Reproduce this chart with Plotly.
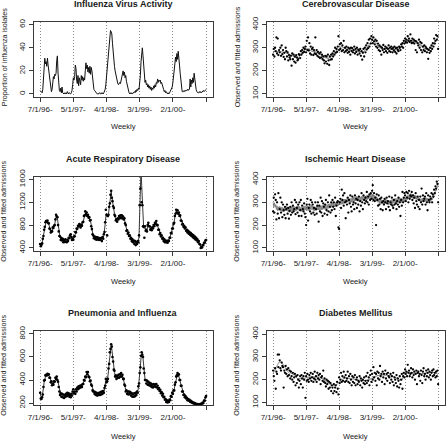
import plotly.graph_objects as go

# ---------------- data (weekly, week 1 .. 251) ----------------
weeks = list(range(1, 252))
tick_weeks = [1, 51, 101, 151, 201, 251]
tick_labels = ["7/1/96-", "5/1/97-", "4/1/98-", "3/1/99-", "2/1/00-", ""]

influenza = [
    3, 2, 1, 1, 4, 12, 22, 31, 26, 28,
    24, 31, 25, 20, 14, 8, 4, 2, 4, 9,
    15, 13, 17, 16, 18, 29, 33, 18, 9, 3,
    2, 5, 1, 6, 1, 0, 0, 1, 0, 1,
    0, 2, 1, 0, 1, 0, 0, 1, 3, 8,
    14, 12, 15, 25, 22, 12, 9, 16, 7, 14,
    10, 8, 16, 12, 15, 11, 14, 12, 20, 27,
    22, 25, 19, 23, 18, 24, 17, 23, 20, 12,
    7, 4, 3, 2, 1, 1, 0, 0, 0, 1,
    0, 0, 1, 0, 1, 0, 1, 2, 4, 8,
    15, 25, 35, 42, 44, 50, 55, 54, 52, 44,
    35, 29, 24, 20, 17, 13, 11, 9, 8, 9,
    10, 9, 12, 13, 17, 20, 16, 19, 14, 16,
    11, 8, 5, 3, 1, 0, 1, 0, 1, 0,
    1, 1, 2, 1, 3, 2, 4, 3, 5, 4,
    8, 16, 28, 36, 40, 33, 24, 16, 10, 12,
    8, 9, 6, 8, 5, 7, 4, 6, 3, 5,
    4, 7, 5, 8, 6, 10, 9, 13, 10, 12,
    11, 12, 9, 10, 7, 5, 4, 2, 3, 1,
    2, 1, 0, 1, 0, 1, 2, 3, 5, 6,
    10, 14, 20, 26, 32, 28, 35, 30, 37, 33,
    25, 18, 10, 5, 2, 2, 2, 3, 2, 3,
    3, 3, 4, 3, 4, 4, 13, 6, 12, 9,
    14, 10, 18, 12, 8, 4, 2, 1, 1, 1,
    2, 1, 2, 1, 2, 2, 3, 2, 3, 3,
    4]

acute_fit = [
    460, 440, 450, 490, 540, 620, 700, 780, 830, 860,
    870, 865, 850, 820, 760, 720, 680, 670, 700, 740,
    760, 780, 820, 880, 950, 970, 920, 820, 700, 620,
    580, 560, 560, 550, 540, 530, 525, 520, 530, 520,
    515, 530, 540, 560, 580, 600, 620, 600, 560, 550,
    560, 590, 620, 660, 690, 720, 750, 770, 790, 800,
    790, 780, 790, 800, 830, 880, 940, 980, 1000, 1010,
    1000, 980, 960, 940, 920, 900, 870, 800, 720, 660,
    610, 590, 580, 575, 570, 565, 570, 565, 560, 560,
    555, 560, 555, 560, 570, 580, 620, 700, 820, 950,
    1000, 960, 940, 1000, 1100, 1200, 1300, 1380, 1300, 1200,
    1150, 1080, 1000, 940, 900, 880, 880, 900, 920, 940,
    950, 950, 940, 950, 940, 930, 920, 900, 850, 780,
    720, 690, 670, 650, 630, 600, 580, 560, 540, 530,
    520, 510, 500, 490, 480, 480, 490, 500, 520, 600,
    900, 1500, 1800, 1500, 1100, 800, 750, 740, 760, 720,
    700, 720, 780, 820, 800, 760, 740, 720, 730, 740,
    760, 780, 800, 820, 840, 850, 820, 780, 740, 700,
    660, 640, 620, 600, 580, 560, 540, 530, 520, 515,
    510, 505, 510, 515, 530, 560, 600, 640, 680, 720,
    760, 800, 860, 940, 1020, 1050, 1040, 1030, 1020, 1000,
    980, 950, 900, 860, 830, 800, 790, 770, 760, 740,
    720, 700, 690, 680, 670, 660, 650, 640, 630, 620,
    610, 600, 590, 580, 570, 560, 545, 530, 515, 500,
    480, 450, 420, 410, 420, 440, 460, 480, 500, 520,
    530]

acute_obs = [
    470, 430, 455, 480, 560, 610, 720, 770, 850, 870,
    860, 880, 840, 830, 740, 730, 670, 690, 690, 760,
    750, 790, 800, 900, 980, 950, 940, 800, 690, 610,
    600, 540, 575, 530, 560, 500, 540, 505, 550, 510,
    500, 545, 520, 580, 570, 620, 640, 590, 540, 565,
    545, 600, 605, 680, 670, 740, 735, 790, 775, 820,
    800, 760, 810, 790, 850, 860, 960, 970, 1040, 990,
    1020, 960, 980, 930, 940, 880, 890, 780, 730, 640,
    620, 570, 600, 555, 590, 545, 585, 550, 580, 540,
    570, 545, 575, 520, 590, 560, 640, 680, 850, 1070,
    980, 620, 960, 980, 1120, 1180, 1330, 1400, 1280, 1220,
    1130, 1100, 980, 960, 880, 900, 860, 920, 900, 960,
    930, 970, 920, 970, 920, 950, 900, 920, 830, 800,
    700, 710, 650, 670, 610, 620, 560, 580, 520, 550,
    500, 530, 470, 520, 450, 500, 470, 520, 500, 620,
    1150, 1440, 1800, 1200, 1150, 780, 770, 580, 780, 700,
    720, 690, 800, 840, 780, 780, 720, 740, 710, 760,
    740, 800, 780, 840, 820, 870, 800, 800, 720, 720,
    640, 660, 600, 620, 560, 580, 520, 550, 500, 530,
    500, 520, 490, 530, 520, 580, 580, 660, 660, 740,
    740, 820, 840, 960, 1000, 1070, 1020, 1060, 1000, 1020,
    960, 970, 880, 870, 810, 820, 770, 790, 740, 760,
    700, 720, 670, 700, 650, 680, 630, 660, 610, 640,
    590, 620, 570, 600, 550, 580, 530, 550, 500, 520,
    470, 460, 400, 420, 410, 450, 450, 490, 490, 530,
    540]

pneu_fit = [
    285, 250, 240, 255, 280, 330, 380, 410, 425, 435,
    445, 450, 450, 445, 430, 410, 395, 380, 365, 360,
    365, 380, 395, 410, 420, 425, 410, 380, 350, 310,
    285, 275, 270, 268, 265, 262, 265, 260, 262, 265,
    270, 275, 280, 275, 268, 262, 265, 270, 275, 285,
    300, 295, 290, 295, 305, 315, 325, 330, 335, 338,
    340, 342, 345, 350, 358, 370, 390, 405, 420, 435,
    450, 460, 455, 435, 420, 400, 385, 370, 345, 320,
    305, 295, 290, 285, 282, 280, 278, 275, 278, 280,
    282, 285, 283, 285, 288, 292, 300, 320, 360, 400,
    395, 380, 420, 480, 550, 620, 680, 700, 670, 610,
    550, 500, 465, 440, 425, 420, 425, 430, 432, 430,
    435, 440, 445, 440, 435, 420, 400, 370, 340, 315,
    300, 292, 288, 290, 292, 290, 285, 278, 272, 268,
    266, 268, 270, 272, 275, 280, 290, 300, 330, 380,
    440, 520, 590, 630, 635, 590, 520, 450, 410, 390,
    385, 380, 375, 370, 365, 360, 362, 358, 352, 348,
    345, 350, 355, 352, 350, 352, 348, 340, 330, 322,
    315, 305, 295, 285, 275, 268, 258, 248, 238, 228,
    220, 215, 212, 214, 218, 222, 235, 250, 265, 280,
    290, 300, 320, 350, 385, 420, 445, 455, 450, 435,
    415, 390, 365, 340, 315, 295, 280, 268, 258, 252,
    246, 240, 234, 229, 225, 221, 218, 214, 210, 207,
    204, 200, 197, 194, 191, 189, 188, 187, 186, 186,
    186, 187, 188, 190, 193, 198, 205, 215, 228, 242,
    258]

pneu_obs = [
    290, 240, 235, 250, 275, 340, 395, 400, 440, 445,
    440, 455, 445, 450, 420, 420, 380, 390, 355, 370,
    360, 390, 385, 420, 410, 430, 400, 385, 340, 300,
    270, 285, 255, 280, 250, 275, 245, 270, 255, 280,
    260, 290, 270, 285, 255, 270, 250, 280, 265, 300,
    320, 285, 300, 280, 320, 300, 335, 320, 345, 330,
    350, 335, 355, 340, 365, 365, 400, 395, 430, 425,
    470, 450, 470, 430, 425, 390, 395, 360, 350, 310,
    300, 300, 280, 295, 270, 290, 265, 285, 270, 290,
    270, 295, 275, 300, 280, 305, 290, 330, 350, 410,
    380, 390, 410, 500, 540, 640, 670, 710, 690, 600,
    560, 490, 480, 430, 440, 410, 435, 420, 445, 420,
    450, 430, 460, 430, 445, 410, 410, 360, 350, 300,
    310, 280, 300, 275, 300, 280, 295, 265, 285, 255,
    280, 255, 285, 260, 290, 270, 300, 290, 345, 370,
    460, 510, 610, 640, 620, 600, 500, 460, 400, 400,
    370, 395, 360, 385, 355, 375, 350, 370, 340, 360,
    335, 365, 345, 360, 340, 365, 335, 350, 320, 330,
    305, 315, 285, 295, 265, 280, 250, 255, 230, 235,
    210, 225, 205, 220, 210, 230, 225, 260, 255, 290,
    280, 310, 310, 360, 380, 430, 440, 460, 440, 450,
    400, 400, 350, 350, 300, 300, 270, 275, 250, 260,
    240, 245, 225, 235, 220, 228, 212, 220, 205, 212,
    198, 205, 192, 200, 186, 194, 183, 192, 181, 190,
    182, 192, 184, 195, 188, 204, 200, 222, 220, 248,
    262]

cere_fit = [
    280, 286, 281, 287, 282, 285, 280, 286, 281, 284,
    279, 285, 280, 284, 279, 283, 278, 282, 277, 280,
    275, 279, 273, 277, 270, 274, 267, 270, 264, 267,
    262, 264, 258, 261, 255, 258, 253, 257, 254, 260,
    262, 270, 271, 278, 279, 285, 284, 290, 288, 294,
    291, 297, 293, 298, 292, 296, 288, 291, 284, 288,
    282, 287, 281, 286, 280, 284, 277, 281, 274, 278,
    271, 275, 268, 272, 265, 268, 261, 264, 257, 260,
    254, 258, 252, 257, 253, 258, 255, 261, 259, 266,
    266, 273, 274, 280, 281, 287, 286, 292, 290, 297,
    296, 302, 300, 306, 302, 306, 298, 302, 295, 299,
    292, 297, 290, 295, 288, 293, 287, 292, 286, 292,
    287, 293, 287, 292, 286, 291, 285, 290, 283, 288,
    282, 287, 281, 286, 280, 285, 280, 286, 283, 290,
    290, 297, 298, 305, 306, 313, 315, 322, 324, 330,
    329, 334, 330, 333, 326, 328, 318, 320, 310, 312,
    302, 306, 297, 301, 295, 300, 294, 299, 293, 298,
    293, 298, 293, 298, 293, 297, 292, 297, 291, 296,
    291, 296, 290, 295, 290, 294, 289, 294, 290, 295,
    292, 298, 297, 303, 304, 310, 313, 319, 322, 328,
    329, 334, 332, 336, 332, 336, 331, 335, 330, 334,
    328, 332, 326, 330, 324, 328, 322, 326, 319, 323,
    316, 320, 312, 316, 307, 311, 302, 305, 297, 300,
    293, 296, 290, 293, 288, 292, 290, 295, 295, 301,
    302, 309, 311, 318, 320, 327, 330, 337, 338, 342,
    343]

cere_obs = [
    270, 295, 262, 300, 285, 345, 275, 340, 268, 290,
    280, 300, 265, 310, 272, 290, 260, 278, 250, 300,
    285, 262, 280, 245, 268, 258, 250, 265, 222, 275,
    250, 270, 240, 262, 235, 268, 258, 245, 250, 272,
    268, 255, 285, 270, 290, 278, 300, 282, 295, 305,
    280, 330, 290, 345, 288, 320, 275, 305, 270, 295,
    300, 268, 290, 275, 345, 272, 290, 265, 282, 260,
    275, 255, 280, 258, 270, 250, 262, 245, 232, 265,
    240, 262, 230, 270, 245, 225, 262, 248, 270, 250,
    275, 262, 285, 270, 300, 278, 295, 282, 305, 350,
    290, 315, 295, 320, 285, 310, 290, 330, 280, 300,
    285, 305, 290, 278, 300, 282, 296, 270, 300, 285,
    298, 280, 290, 305, 275, 295, 282, 300, 270, 292,
    288, 275, 295, 265, 285, 248, 278, 295, 262, 300,
    280, 310, 292, 320, 298, 335, 305, 340, 318, 350,
    335, 320, 345, 328, 315, 335, 305, 330, 300, 318,
    290, 310, 285, 305, 270, 300, 290, 312, 280, 295,
    305, 285, 300, 278, 295, 310, 285, 300, 282, 305,
    295, 280, 300, 288, 305, 282, 298, 275, 300, 290,
    285, 305, 300, 290, 315, 305, 320, 300, 330, 318,
    340, 325, 335, 322, 350, 330, 340, 325, 358, 330,
    320, 340, 322, 335, 318, 330, 290, 328, 280, 320,
    310, 335, 300, 325, 290, 320, 280, 305, 290, 310,
    285, 305, 298, 280, 295, 252, 290, 278, 300, 285,
    310, 295, 320, 305, 340, 318, 330, 355, 335, 350,
    295]

isch_fit = [
    300, 280, 298, 278, 290, 268, 285, 262, 280, 265,
    282, 262, 280, 260, 278, 258, 276, 260, 280, 262,
    282, 262, 280, 258, 278, 256, 276, 258, 280, 262,
    284, 264, 282, 260, 280, 262, 284, 266, 286, 264,
    282, 262, 278, 260, 280, 262, 282, 264, 284, 266,
    286, 266, 284, 262, 282, 264, 286, 268, 288, 266,
    284, 264, 282, 262, 280, 264, 284, 266, 286, 266,
    282, 264, 284, 266, 286, 268, 288, 270, 290, 268,
    286, 270, 290, 272, 292, 274, 294, 276, 296, 278,
    298, 278, 296, 280, 300, 282, 302, 284, 304, 286,
    306, 288, 308, 290, 310, 292, 312, 294, 314, 296,
    314, 298, 316, 300, 318, 300, 316, 298, 318, 300,
    320, 302, 322, 304, 324, 306, 326, 306, 324, 304,
    322, 304, 324, 306, 326, 308, 328, 308, 326, 308,
    328, 310, 330, 312, 332, 314, 334, 316, 336, 316,
    336, 314, 334, 312, 330, 308, 326, 304, 320, 300,
    316, 296, 314, 294, 312, 292, 310, 292, 312, 294,
    314, 294, 312, 292, 310, 290, 308, 290, 310, 292,
    312, 294, 314, 296, 316, 298, 318, 298, 316, 298,
    318, 300, 320, 300, 318, 298, 316, 298, 318, 302,
    322, 306, 326, 310, 330, 314, 334, 318, 338, 320,
    336, 318, 334, 316, 332, 314, 330, 312, 326, 310,
    322, 306, 318, 302, 316, 300, 318, 302, 320, 304,
    322, 304, 320, 302, 318, 300, 316, 302, 318, 304,
    322, 310, 330, 318, 338, 335, 355, 350, 368, 365,
    380]

isch_obs = [
    260, 320, 255, 335, 310, 225, 300, 250, 340, 230,
    270, 320, 255, 300, 235, 290, 265, 245, 280, 230,
    270, 290, 250, 275, 228, 262, 280, 245, 300, 255,
    285, 260, 270, 310, 248, 300, 275, 255, 290, 240,
    300, 265, 310, 240, 285, 270, 260, 295, 250, 235,
    200, 290, 315, 220, 275, 290, 260, 310, 250, 300,
    290, 255, 275, 245, 300, 270, 250, 285, 300, 215,
    285, 260, 320, 255, 305, 240, 295, 280, 250, 290,
    310, 265, 245, 300, 260, 330, 280, 255, 300, 265,
    310, 280, 300, 270, 320, 240, 285, 300, 305, 190,
    183, 300, 315, 275, 355, 310, 330, 285, 340, 300,
    230, 305, 290, 320, 255, 310, 295, 330, 280, 260,
    325, 290, 300, 270, 330, 295, 315, 275, 310, 290,
    325, 260, 305, 285, 340, 300, 270, 330, 310, 295,
    320, 305, 345, 300, 325, 290, 335, 310, 340, 315,
    350, 375, 310, 340, 305, 320, 200, 335, 310, 285,
    330, 290, 315, 270, 320, 300, 265, 305, 290, 315,
    300, 270, 320, 295, 305, 280, 325, 265, 300, 290,
    320, 285, 275, 310, 290, 330, 295, 270, 305, 290,
    320, 280, 300, 240, 310, 285, 345, 300, 320, 340,
    330, 305, 345, 320, 340, 300, 350, 315, 330, 325,
    345, 310, 330, 295, 320, 275, 340, 305, 290, 325,
    280, 310, 270, 325, 300, 360, 290, 330, 305, 315,
    325, 290, 340, 300, 265, 330, 310, 300, 325, 315,
    340, 300, 335, 325, 355, 340, 370, 360, 390, 380,
    300]

diab_fit = [
    226, 232, 236, 242, 246, 252, 258, 266, 272, 278,
    276, 280, 276, 278, 272, 270, 264, 258, 252, 246,
    242, 238, 236, 232, 232, 228, 230, 226, 228, 224,
    226, 220, 220, 214, 214, 208, 208, 204, 206, 202,
    206, 202, 206, 202, 206, 202, 206, 204, 208, 206,
    210, 207, 212, 208, 213, 209, 214, 210, 215, 211,
    215, 211, 215, 211, 214, 210, 214, 210, 214, 210,
    213, 209, 212, 206, 208, 202, 203, 198, 198, 193,
    194, 189, 190, 185, 186, 181, 182, 177, 178, 174,
    176, 172, 175, 172, 176, 174, 180, 178, 184, 184,
    190, 190, 196, 196, 201, 200, 205, 203, 208, 205,
    209, 205, 208, 204, 207, 203, 206, 202, 206, 202,
    205, 201, 204, 200, 203, 199, 202, 198, 201, 197,
    200, 196, 199, 195, 199, 194, 198, 193, 197, 193,
    198, 194, 200, 196, 202, 198, 204, 200, 206, 202,
    208, 204, 212, 208, 215, 211, 218, 214, 220, 216,
    221, 217, 222, 218, 222, 218, 222, 218, 222, 218,
    221, 217, 221, 217, 220, 216, 220, 215, 219, 214,
    218, 213, 216, 211, 214, 208, 211, 205, 208, 202,
    205, 200, 203, 198, 200, 196, 205, 215, 225, 232,
    236, 232, 236, 231, 235, 230, 234, 229, 233, 228,
    232, 227, 231, 226, 230, 225, 230, 225, 230, 225,
    229, 224, 229, 224, 229, 224, 229, 224, 229, 224,
    230, 225, 231, 226, 232, 227, 233, 228, 234, 229,
    235, 230, 235, 229, 233, 227, 231, 225, 229, 223,
    226]

diab_obs = [
    240, 215, 195, 250, 160, 235, 225, 310, 255, 310,
    285, 250, 240, 275, 260, 255, 165, 240, 230, 260,
    225, 245, 215, 250, 220, 240, 205, 235, 215, 200,
    230, 190, 210, 225, 175, 215, 185, 220, 200, 165,
    195, 215, 180, 220, 205, 165, 215, 200, 230, 120,
    215, 195, 225, 200, 190, 220, 205, 230, 195, 210,
    225, 190, 205, 235, 200, 215, 190, 230, 205, 220,
    200, 225, 180, 210, 215, 195, 240, 190, 205, 185,
    170, 200, 180, 195, 160, 190, 165, 185, 150, 175,
    165, 140, 180, 150, 165, 175, 145, 190, 160, 135,
    210, 185, 200, 230, 190, 215, 195, 235, 210, 190,
    220, 195, 205, 235, 190, 215, 185, 225, 200, 175,
    215, 190, 210, 185, 220, 175, 200, 210, 180, 195,
    190, 215, 175, 205, 195, 165, 200, 185, 210, 180,
    195, 215, 185, 230, 195, 210, 175, 220, 240, 190,
    225, 200, 255, 210, 230, 195, 225, 175, 235, 205,
    230, 200, 260, 215, 225, 190, 235, 210, 225, 180,
    240, 205, 225, 195, 230, 215, 210, 185, 225, 200,
    215, 190, 230, 175, 210, 200, 185, 220, 170, 205,
    195, 165, 215, 180, 200, 225, 160, 215, 230, 210,
    245, 225, 235, 215, 265, 230, 240, 215, 225, 250,
    230, 210, 245, 220, 235, 200, 225, 240, 180, 230,
    235, 215, 225, 195, 240, 220, 185, 235, 250, 215,
    225, 200, 240, 215, 230, 245, 210, 235, 220, 200,
    230, 240, 215, 245, 220, 230, 210, 235, 215, 240,
    180]

# ---------------- figure ----------------
W, H = 446, 442
FONT = "Liberation Sans, Arial, Helvetica, sans-serif"
INK = "#1a1a1a"
BOX = "#3a3a3a"

# plot boxes in pixels: (left, top, right, bottom)
boxes = {
    1: (33.5, 22.0, 212.7, 96.7),
    2: (266.5, 22.0, 444.7, 96.7),
    3: (33.5, 176.7, 212.7, 250.7),
    4: (266.5, 176.7, 444.7, 250.7),
    5: (33.5, 330.7, 212.7, 404.7),
    6: (266.5, 330.7, 444.7, 404.7),
}
titles = {
    1: "Influenza Virus Activity",
    2: "Cerebrovascular Disease",
    3: "Acute Respiratory Disease",
    4: "Ischemic Heart Disease",
    5: "Pneumonia and Influenza",
    6: "Diabetes Mellitus",
}
yranges = {1: [-2.4, 62.4], 2: [87, 412], 3: [352, 1648],
           4: [88, 412], 5: [186, 828], 6: [90, 415]}
yticks = {1: [0, 20, 40, 60], 2: [100, 200, 300, 400], 3: [400, 800, 1200, 1600],
          4: [100, 200, 300, 400], 5: [200, 400, 600, 800], 6: [100, 200, 300, 400]}
ytitles = {1: "Proportion of influenza isolates"}
weekly_y = {1: 126.5, 2: 126.5, 3: 281.5, 4: 281.5, 5: 436.0, 6: 436.0}

fig = go.Figure()

series = {
    2: (cere_obs, cere_fit),
    3: (acute_obs, acute_fit),
    4: (isch_obs, isch_fit),
    5: (pneu_obs, pneu_fit),
    6: (diab_obs, diab_fit),
}

# panel 1: line only
fig.add_trace(go.Scatter(x=weeks, y=influenza, mode="lines",
                         line=dict(color="#111111", width=1),
                         xaxis="x", yaxis="y", showlegend=False))

for k, (obs, fit) in series.items():
    xa, ya = f"x{k}", f"y{k}"
    dense = k in (3, 5)
    fig.add_trace(go.Scatter(x=weeks, y=fit, mode="lines",
                             line=dict(color="#222222" if dense else "#555555",
                                       width=0.9 if dense else 0.6),
                             xaxis=xa, yaxis=ya, showlegend=False))
    fig.add_trace(go.Scatter(x=weeks, y=obs, mode="markers",
                             marker=dict(color="#000000", size=2.6 if dense else 2.3,
                                         line=dict(width=0)),
                             xaxis=xa, yaxis=ya, showlegend=False))

layout = dict(width=W, height=H, margin=dict(l=0, r=0, t=0, b=0),
              paper_bgcolor="white", plot_bgcolor="white",
              font=dict(family=FONT, color=INK, size=8), showlegend=False)

annotations = []
for k, (l, t, r, b) in boxes.items():
    sfx = "" if k == 1 else str(k)
    xdom = [l / W, r / W]
    ydom = [1 - b / H, 1 - t / H]
    layout[f"xaxis{sfx}"] = dict(
        domain=xdom, range=[-9, 261], anchor=f"y{sfx}",
        tickmode="array", tickvals=tick_weeks, ticktext=tick_labels,
        ticks="outside", ticklen=4, tickwidth=1, tickcolor=BOX,
        showline=True, linecolor=BOX, linewidth=1, mirror=True,
        showgrid=True, gridcolor="#8a8a8a", griddash="1px,2px", gridwidth=1,
        zeroline=False, tickfont=dict(size=8, color=INK, family=FONT),
        ticklabelstandoff=1, automargin=False,
    )
    layout[f"yaxis{sfx}"] = dict(
        domain=ydom, range=yranges[k], anchor=f"x{sfx}",
        tickmode="array", tickvals=yticks[k],
        ticks="outside", ticklen=4, tickwidth=1, tickcolor=BOX,
        showline=True, linecolor=BOX, linewidth=1, mirror=True,
        showgrid=False, zeroline=False, tickangle=-90,
        tickfont=dict(size=8, color=INK, family=FONT), automargin=False,
    )
    cx = (l + r) / 2
    cy = (t + b) / 2
    annotations.append(dict(text=f"<b>{titles[k]}</b>", x=cx / W, y=1 - (t - 17.5) / H,
                            xref="paper", yref="paper", showarrow=False,
                            xanchor="center", yanchor="middle",
                            font=dict(size=9, family=FONT, color=INK)))
    annotations.append(dict(text="Weekly", x=cx / W, y=1 - weekly_y[k] / H,
                            xref="paper", yref="paper", showarrow=False,
                            xanchor="center", yanchor="middle",
                            font=dict(size=7.5, family=FONT, color=INK)))
    annotations.append(dict(text=ytitles.get(k, "Observed and fitted admissions"),
                            x=(l - 29.5) / W, y=1 - (cy - 2) / H, textangle=-90,
                            xref="paper", yref="paper", showarrow=False,
                            xanchor="center", yanchor="middle",
                            font=dict(size=7.2, family=FONT, color=INK)))

layout["annotations"] = annotations
fig.update_layout(**layout)
fig.write_html("out.html",
               config={"displayModeBar": False},
               post_script="document.body.style.margin='0';document.body.style.padding='0';")
